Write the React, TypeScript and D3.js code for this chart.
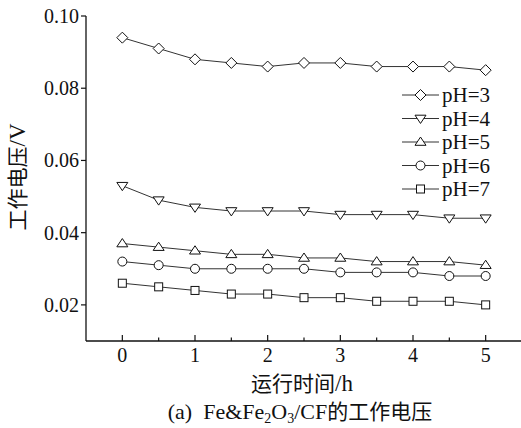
import React from "react";
import * as d3 from "d3";

const times = [0, 0.5, 1, 1.5, 2, 2.5, 3, 3.5, 4, 4.5, 5];
const seriesNames = ["pH=3", "pH=4", "pH=5", "pH=6", "pH=7"];
const pH3 = [0.094, 0.091, 0.088, 0.087, 0.086, 0.087, 0.087, 0.086, 0.086, 0.086, 0.085];
const pH4 = [0.053, 0.049, 0.047, 0.046, 0.046, 0.046, 0.045, 0.045, 0.045, 0.044, 0.044];
const pH5 = [0.037, 0.036, 0.035, 0.034, 0.034, 0.033, 0.033, 0.032, 0.032, 0.032, 0.031];
const pH6 = [0.032, 0.031, 0.030, 0.030, 0.030, 0.030, 0.029, 0.029, 0.029, 0.028, 0.028];
const pH7 = [0.026, 0.025, 0.024, 0.023, 0.023, 0.022, 0.022, 0.021, 0.021, 0.021, 0.020];
const markers = ["diamond", "tdown", "tup", "circle", "square"];
const xTicks = [0, 1, 2, 3, 4, 5];
const xMinor = [0.5, 1.5, 2.5, 3.5, 4.5];
const yTicks = [0.02, 0.04, 0.06, 0.08, 0.10];

const allSeries = [pH3, pH4, pH5, pH6, pH7];

const serif = "Liberation Serif";
const cjk = "Noto Sans CJK SC";

function Marker({ type, x, y }: { type: string; x: number; y: number }) {
  const st = { fill: "#fff", stroke: "#111", strokeWidth: 1 };
  if (type === "diamond") {
    const r = 5.5;
    return <path d={`M${x},${y - r}L${x + r},${y}L${x},${y + r}L${x - r},${y}Z`} {...st} />;
  }
  if (type === "tdown") {
    const r = 5.5;
    return <path d={`M${x - r},${y - r * 0.6}L${x + r},${y - r * 0.6}L${x},${y + r * 0.9}Z`} {...st} />;
  }
  if (type === "tup") {
    const r = 5.5;
    return <path d={`M${x - r},${y + r * 0.6}L${x + r},${y + r * 0.6}L${x},${y - r * 0.9}Z`} {...st} />;
  }
  if (type === "circle") {
    return <circle cx={x} cy={y} r={4.5} {...st} />;
  }
  return <rect x={x - 4} y={y - 4} width={8} height={8} {...st} />;
}

export default function App() {
  const W = 521, H = 428;
  const x = d3.scaleLinear().domain([-0.5, 5.5]).range([86, 522]);
  const y = d3.scaleLinear().domain([0.01, 0.10]).range([341, 16]);
  const line = d3.line<number>().x((_, i) => x(times[i])).y((d) => y(d));

  const legX = 402;
  const legY0 = 95;
  const legDy = 23.5;

  return (
    <svg width={W} height={H} style={{ position: "absolute", left: 0, top: 0, background: "#fff" }}>
      {/* axes */}
      <line x1={86} y1={y(0.10)} x2={86} y2={341} stroke="#111" strokeWidth={1.3} />
      <line x1={86} y1={341} x2={522} y2={341} stroke="#111" strokeWidth={1.3} />
      {yTicks.map((t) => (
        <g key={t}>
          <line x1={81} x2={86} y1={y(t)} y2={y(t)} stroke="#111" strokeWidth={1.2} />
          <text x={79} y={y(t)} dy="0.35em" textAnchor="end" fontFamily={serif} fontSize={20} fill="#111">
            {t.toFixed(2)}
          </text>
        </g>
      ))}
      {xTicks.map((t) => (
        <g key={t}>
          <line x1={x(t)} x2={x(t)} y1={341} y2={335} stroke="#111" strokeWidth={1.2} />
          <text x={x(t)} y={362} textAnchor="middle" fontFamily={serif} fontSize={20} fill="#111">
            {t}
          </text>
        </g>
      ))}
      {xMinor.map((t) => (
        <line key={t} x1={x(t)} x2={x(t)} y1={341} y2={337.5} stroke="#111" strokeWidth={1.2} />
      ))}
      {/* series */}
      {allSeries.map((s, k) => (
        <g key={k}>
          <path d={line(s) || ""} fill="none" stroke="#333" strokeWidth={1} />
          {s.map((v, i) => (
            <Marker key={i} type={markers[k]} x={x(times[i])} y={y(v)} />
          ))}
        </g>
      ))}
      {/* legend */}
      {seriesNames.map((n, k) => (
        <g key={n}>
          <line x1={legX} x2={legX + 37} y1={legY0 + k * legDy} y2={legY0 + k * legDy} stroke="#333" strokeWidth={1} />
          <Marker type={markers[k]} x={legX + 18.5} y={legY0 + k * legDy} />
          <text x={legX + 40} y={legY0 + k * legDy} dy="0.35em" fontFamily={serif} fontSize={21} fill="#111">
            {n}
          </text>
        </g>
      ))}
      {/* axis titles */}
      <text
        transform={`translate(25,177) rotate(-90)`}
        textAnchor="middle"
        fontSize={21}
        fill="#111"
      >
        <tspan fontFamily={cjk}>工作电压</tspan>
        <tspan fontFamily={serif} fontSize={23}>/V</tspan>
      </text>
      <text x={302} y={391} textAnchor="middle" fontSize={21} fill="#111">
        <tspan fontFamily={cjk}>运行时间</tspan>
        <tspan fontFamily={serif} fontSize={23}>/h</tspan>
      </text>
      <text x={300} y={419} textAnchor="middle" fontSize={21} fill="#111">
        <tspan fontFamily={serif} fontSize={22}>{"(a)\u00a0\u00a0Fe&Fe"}</tspan>
        <tspan fontFamily={serif} fontSize={14} dy={4}>2</tspan>
        <tspan fontFamily={serif} fontSize={22} dy={-4}>O</tspan>
        <tspan fontFamily={serif} fontSize={14} dy={4}>3</tspan>
        <tspan fontFamily={serif} fontSize={22} dy={-4}>/CF</tspan>
        <tspan fontFamily={cjk}>的工作电压</tspan>
      </text>
    </svg>
  );
}
